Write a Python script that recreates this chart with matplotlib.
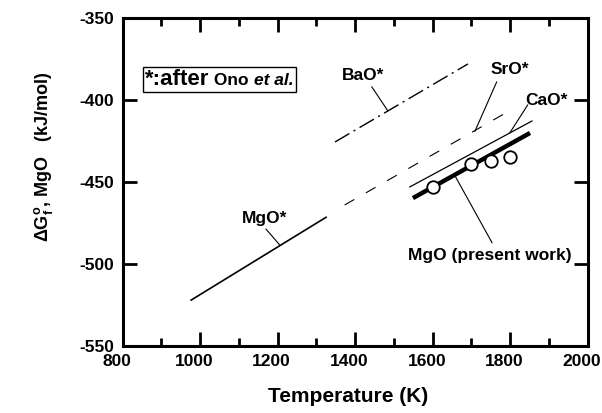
import matplotlib
matplotlib.use('Agg')
import matplotlib.pyplot as plt
import matplotlib.transforms as mtransforms
from matplotlib.offsetbox import TextArea, HPacker, AnchoredOffsetbox
from matplotlib import rcParams

rcParams.update({'font.family': 'Liberation Sans'})
rcParams.update({'font.weight': 'bold'})
rcParams.update({'axes.unicode_minus': False})
rcParams.update({'mathtext.fontset': 'custom'})
rcParams.update({'mathtext.rm': 'Liberation Sans'})
rcParams.update({'mathtext.bf': 'Liberation Sans:bold'})
rcParams.update({'mathtext.it': 'Liberation Sans:italic:bold'})

# literature lines (Ono et al.)
mgo_lit_T = [977, 1325]
mgo_lit_G = [-522, -471.5]
sro_T = [1373, 1791]
sro_G = [-464, -407.5]
bao_T = [1348, 1691]
bao_G = [-425.6, -378]
cao_T = [1541, 1856]
cao_G = [-453, -412.8]

# present work
fit_T = [1549, 1851]
fit_G = [-459.8, -420.1]
meas_T = [1600, 1700, 1750, 1800]
meas_G = [-453, -439, -437.2, -434.8]

# labels: text, text position, leader start, leader end
labels = [
    ('BaO*', (1420, -384.8), (1443, -392), (1484, -406.5)),
    ('SrO*', (1799, -381.7), (1765, -389), (1709, -419)),
    ('CaO*', (1894, -400), (1845, -403), (1799, -420)),
    ('MgO*', (1167, -472), (1170, -478.7), (1206, -488.5)),
    ('MgO (present work)', (1748, -495), (1753, -487), (1657, -446)),
]

fig = plt.figure(figsize=(6.02, 4.13), dpi=100)
ax = fig.add_axes([0.2035, 0.1622, 0.7729, 0.7942])

ax.plot(mgo_lit_T, mgo_lit_G, color='k', lw=1.2)
ax.plot(sro_T, sro_G, color='k', lw=0.8, dashes=(10, 12))
ax.plot(bao_T, bao_G, color='k', lw=1.0, dashes=(12, 3.5, 1.5, 3.5))
ax.plot(cao_T, cao_G, color='k', lw=0.9)
ax.plot(fit_T, fit_G, color='k', lw=3.2, solid_capstyle='butt')
ax.plot(meas_T, meas_G, 'o', ms=9, mfc='white', mec='k', mew=1.3, ls='none')

for txt, pos, p0, p1 in labels:
    ax.plot([p0[0], p1[0]], [p0[1], p1[1]], color='k', lw=0.8)
    ax.text(pos[0], pos[1], txt, fontsize=12.5, fontweight='bold', ha='center', va='center')

# note box
t1 = TextArea('*:after', textprops=dict(fontsize=16, fontweight='bold'))
t2 = TextArea(' Ono ', textprops=dict(fontsize=12.5, fontweight='bold'))
t3 = TextArea('et al.', textprops=dict(fontsize=12.5, fontweight='bold', style='italic'))
box = HPacker(children=[t1, t2, t3], align='baseline', pad=0, sep=0)
anc = AnchoredOffsetbox(loc='upper left', child=box, pad=0.15, borderpad=0, frameon=True,
                        bbox_to_anchor=(0.044, 0.851), bbox_transform=ax.transAxes)
anc.patch.set_edgecolor('k')
anc.patch.set_linewidth(1.0)
anc.patch.set_boxstyle('square', pad=0)
ax.add_artist(anc)

ax.set_xlim(800, 2000)
ax.set_ylim(-550, -350)
ax.set_xticks(range(800, 2001, 200))
ax.set_xticks(range(900, 2000, 200), minor=True)
ax.set_yticks(range(-550, -349, 50))
for s in ax.spines.values():
    s.set_linewidth(2.2)
ax.tick_params(which='major', direction='in', length=10, width=2, top=True, right=True,
               labelsize=12.5, pad=6)
ax.tick_params(which='minor', direction='in', length=6, width=2, top=True, right=False, left=False)
shift = mtransforms.ScaledTranslation(-6 / 100., 0, fig.dpi_scale_trans)
for lab in ax.get_xticklabels():
    lab.set_fontweight('bold')
    lab.set_transform(lab.get_transform() + shift)
for lab in ax.get_yticklabels():
    lab.set_fontweight('bold')

ax.set_xlabel('Temperature (K)', fontsize=15, fontweight='bold', labelpad=13)
ax.xaxis.label.set_x(0.485)
fig.text(0.072, 0.62, r'$\Delta\mathbf{G}_{\mathbf{f}}^{\mathbf{o}}$, MgO   (kJ/mol)',
         rotation=90, fontsize=13, fontweight='bold', ha='center', va='center')

fig.savefig('out.png', dpi=100)
